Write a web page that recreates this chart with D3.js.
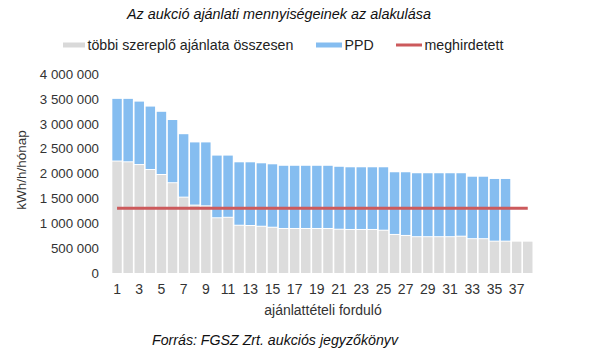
<!DOCTYPE html>
<html><head><meta charset="utf-8">
<script src="https://cdn.jsdelivr.net/npm/d3@7"></script>
<style>body{margin:0;background:#fff}svg{display:block}text{font-family:"Liberation Sans",Arial,sans-serif}</style>
</head><body>
<script>
const rounds = d3.range(1, 39);
const others = [2240000,2225000,2170000,2070000,1970000,1805000,1515000,1355000,1340000,1100000,
  1110000,950000,945000,930000,910000,885000,885000,885000,885000,885000,
  870000,865000,865000,865000,850000,765000,745000,720000,720000,720000,
  720000,730000,680000,680000,630000,630000,630000,630000];
const ppd = [1260000,1275000,1275000,1275000,1270000,1270000,1275000,1270000,1285000,1260000,
  1250000,1275000,1280000,1275000,1275000,1270000,1270000,1270000,1270000,1270000,
  1265000,1260000,1260000,1260000,1275000,1260000,1280000,1285000,1285000,1285000,
  1285000,1275000,1255000,1255000,1260000,1260000,0,0];
const announced = 1300000;
const yTicks = [0,500000,1000000,1500000,2000000,2500000,3000000,3500000,4000000];
const xTickLabels = d3.range(1, 39, 2);

const W = 596, H = 355;
const svg = d3.select("body").append("svg").attr("width", W).attr("height", H);

const x = d3.scaleBand().domain(rounds).range([111.5, 533.3]).paddingInner(0.15).paddingOuter(0.075);
const y = d3.scaleLinear().domain([0, 4000000]).range([273, 74]);
const fmt = v => d3.format(",")(v).replace(/,/g, " ");

// title
svg.append("text").attr("x", 279).attr("y", 18.5).attr("text-anchor", "middle")
  .attr("font-size", 14.4).attr("font-style", "italic").attr("fill", "#111")
  .text("Az aukció ajánlati mennyiségeinek az alakulása");

// legend
const lg = svg.append("g").attr("font-size", 14.2).attr("fill", "#222");
const leg = [
  {x0: 63, x1: 85, c: "#d9d9d9", h: 5, t: "többi szereplő ajánlata összesen"},
  {x0: 316, x1: 342, c: "#85bdf0", h: 5, t: "PPD"},
  {x0: 396, x1: 422, c: "#cc5a5c", h: 3, t: "meghirdetett"}
];
leg.forEach(d => {
  lg.append("rect").attr("x", d.x0).attr("y", 45 - d.h / 2).attr("width", d.x1 - d.x0).attr("height", d.h).attr("fill", d.c);
  lg.append("text").attr("x", d.x1 + 2.5).attr("y", 50).attr("fill", "#222").text(d.t);
});

// bars
const data = rounds.map((r, i) => ({r, o: others[i], p: ppd[i]}));
svg.append("g").selectAll("rect").data(data).join("rect")
  .attr("x", d => x(d.r)).attr("width", x.bandwidth())
  .attr("y", d => y(d.o)).attr("height", d => y(0) - y(d.o))
  .attr("fill", "#dcdcdc");
svg.append("g").selectAll("rect").data(data.filter(d => d.p > 0)).join("rect")
  .attr("x", d => x(d.r)).attr("width", x.bandwidth())
  .attr("y", d => y(d.o + d.p)).attr("height", d => y(d.o) - y(d.o + d.p) - 1)
  .attr("fill", "#85bdf0");

// announced line
const line = d3.line().x(d => x(d) + x.bandwidth() / 2).y(() => y(announced));
svg.append("path").datum(rounds).attr("d", line)
  .attr("stroke", "#cc5a5c").attr("stroke-width", 3).attr("fill", "none");

// y axis
const yAxis = d3.axisLeft(y).tickValues(yTicks).tickFormat(fmt).tickSize(0).tickPadding(0);
const gy = svg.append("g").attr("transform", "translate(99,0)").call(yAxis);
gy.select(".domain").remove();
gy.selectAll("text").attr("font-size", 13.3).attr("fill", "#333").attr("font-family", "Liberation Sans, Arial, sans-serif");

svg.append("text").attr("transform", "translate(26,170) rotate(-90)").attr("text-anchor", "middle")
  .attr("font-size", 13.5).attr("fill", "#333").text("kWh/h/hónap");

// x axis
const xAxis = d3.axisBottom(x).tickValues(xTickLabels).tickSize(0).tickPadding(0);
const gx = svg.append("g").attr("transform", "translate(0,284)").call(xAxis);
gx.select(".domain").remove();
gx.selectAll("text").attr("font-size", 14).attr("fill", "#333").attr("font-family", "Liberation Sans, Arial, sans-serif");

svg.append("text").attr("x", 323).attr("y", 315).attr("text-anchor", "middle")
  .attr("font-size", 14).attr("fill", "#333").text("ajánlattételi forduló");

svg.append("text").attr("x", 275).attr("y", 345).attr("text-anchor", "middle")
  .attr("font-size", 14.2).attr("font-style", "italic").attr("fill", "#111")
  .text("Forrás: FGSZ Zrt. aukciós jegyzőkönyv");
</script>
</body></html>
